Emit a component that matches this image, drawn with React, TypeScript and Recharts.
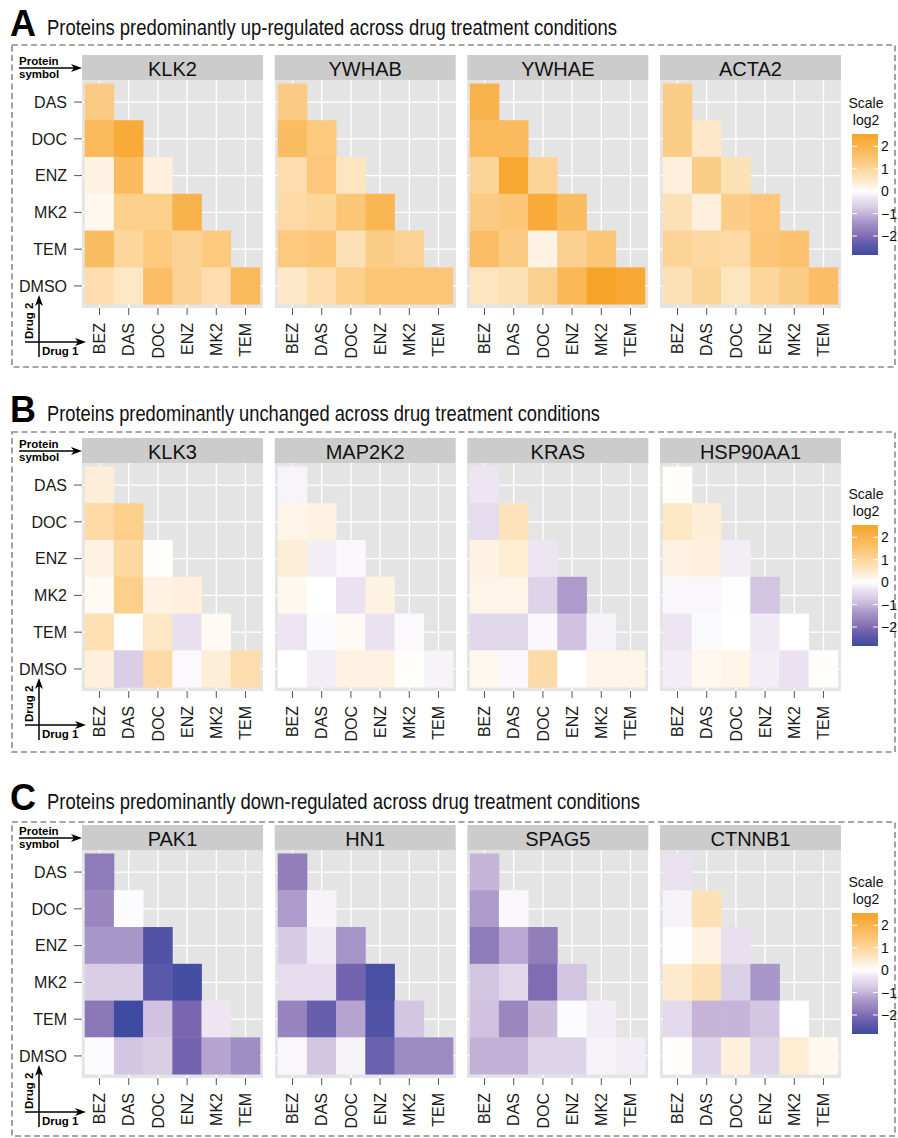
import React from "react";
import { ScatterChart, Scatter, XAxis, YAxis, CartesianGrid } from "recharts";

// Drug 1 along x, drug 2 down y (lower triangle of the combination grid)
const drug1Labels = ["BEZ", "DAS", "DOC", "ENZ", "MK2", "TEM"];
const drug2Labels = ["DAS", "DOC", "ENZ", "MK2", "TEM", "DMSO"];
const legendTicks = [2, 1, 0, -1, -2];

// log2 fold changes, one row per drug 2 (DAS..DMSO), columns from BEZ
const klk2 = [
  [1.3],
  [1.8, 2.3],
  [0.25, 1.75, 0.3],
  [0.15, 1.2, 1.2, 2.0],
  [1.7, 1.0, 1.35, 1.1, 1.35],
  [0.8, 0.55, 1.65, 1.1, 0.8, 1.8],
];
const ywhab = [
  [1.3],
  [1.7, 1.35],
  [0.8, 1.4, 0.6],
  [0.9, 1.0, 1.45, 1.9],
  [1.35, 1.45, 0.7, 1.25, 1.1],
  [0.5, 0.8, 1.2, 1.45, 1.45, 1.45],
];
const ywhae = [
  [2.0],
  [1.8, 1.75],
  [1.05, 2.4, 1.05],
  [1.3, 1.45, 2.3, 1.7],
  [1.65, 1.3, 0.25, 1.15, 1.45],
  [0.6, 0.7, 1.15, 1.85, 2.5, 2.35],
];
const acta2 = [
  [1.25],
  [1.25, 0.5],
  [0.3, 1.25, 0.7],
  [0.7, 0.3, 1.25, 1.4],
  [1.05, 0.95, 0.9, 1.45, 1.55],
  [0.7, 1.05, 0.6, 1.0, 1.25, 1.65],
];
const klk3 = [
  [0.35],
  [0.9, 1.2],
  [0.25, 0.95, 0.03],
  [0.1, 1.2, 0.25, 0.3],
  [0.75, 0.0, 0.55, -0.4, 0.1],
  [0.3, -0.7, 0.9, -0.07, 0.35, 0.8],
];
const map2k2 = [
  [-0.12],
  [0.2, 0.25],
  [0.35, -0.2, -0.08],
  [0.15, 0.0, -0.35, 0.25],
  [-0.3, -0.05, 0.1, -0.35, -0.07],
  [0.0, -0.2, 0.25, 0.25, 0.03, -0.15],
];
const kras = [
  [-0.3],
  [-0.45, 0.65],
  [0.25, 0.4, -0.3],
  [0.2, 0.2, -0.6, -1.3],
  [-0.55, -0.55, -0.1, -0.85, -0.15],
  [0.15, -0.08, 0.85, 0.0, 0.2, 0.2],
];
const hsp90aa1 = [
  [0.05],
  [0.55, 0.35],
  [0.25, 0.3, -0.2],
  [-0.1, -0.1, -0.03, -0.8],
  [-0.3, -0.06, 0.0, -0.25, 0.0],
  [-0.2, 0.15, 0.2, -0.2, -0.35, 0.03],
];
const pak1 = [
  [-1.8],
  [-1.6, -0.05],
  [-1.35, -1.35, -2.6],
  [-0.7, -0.7, -2.45, -2.75],
  [-1.85, -2.85, -0.85, -2.1, -0.3],
  [-0.05, -0.8, -0.7, -2.15, -1.2, -1.5],
];
const hn1 = [
  [-1.75],
  [-1.3, -0.15],
  [-0.75, -0.25, -1.4],
  [-0.45, -0.45, -2.15, -2.7],
  [-1.65, -2.3, -1.2, -2.6, -0.8],
  [-0.1, -0.8, -0.15, -2.25, -1.55, -1.55],
];
const spag5 = [
  [-1.0],
  [-1.3, -0.08],
  [-1.8, -1.15, -1.75],
  [-0.8, -0.55, -2.0, -0.8],
  [-0.85, -1.6, -0.9, -0.05, -0.2],
  [-1.05, -1.05, -0.6, -0.6, -0.15, -0.2],
];
const ctnnb1 = [
  [-0.35],
  [-0.15, 0.7],
  [-0.03, 0.25, -0.4],
  [0.45, 0.7, -0.65, -1.35],
  [-0.5, -1.0, -1.0, -0.8, 0.0],
  [0.02, -0.6, 0.3, -0.6, 0.4, 0.15],
];

const sectionLetters = ["A", "B", "C"];
const sectionTitles = [
  "Proteins predominantly up-regulated across drug treatment conditions",
  "Proteins predominantly unchanged across drug treatment conditions",
  "Proteins predominantly down-regulated across drug treatment conditions",
];
const sectionProteins = [
  ["KLK2", "YWHAB", "YWHAE", "ACTA2"],
  ["KLK3", "MAP2K2", "KRAS", "HSP90AA1"],
  ["PAK1", "HN1", "SPAG5", "CTNNB1"],
];
const sectionValues = [
  [klk2, ywhab, ywhae, acta2],
  [klk3, map2k2, kras, hsp90aa1],
  [pak1, hn1, spag5, ctnnb1],
];

// ---- layout ----
const FONT = "'Liberation Sans', Arial, Helvetica, sans-serif";
const PAGE_W = 898;
const PAGE_H = 1138;
const PANEL_W = 181;
const PANEL_H = 228;
const STRIP_H = 25;
const AXIS_H = 60;
const Y_AXIS_W = 82;
const PANEL_X0 = 82;
const PANEL_STEP = 192.67;
const DOMAIN: [number, number] = [0.4, 6.6];
const TICKS = [1, 2, 3, 4, 5, 6];

const layout = [
  { panelTop: 80, titleBase: 36, titleLen: 570, boxTop: 45, boxBottom: 367, legendShift: 0 },
  { panelTop: 463, titleBase: 422, titleLen: 553, boxTop: 432, boxBottom: 752, legendShift: 391 },
  { panelTop: 850, titleBase: 810, titleLen: 593, boxTop: 822, boxBottom: 1136, legendShift: 779 },
];

// ---- diverging colour scale: white at 0, orange up, purple to blue down ----
const BAR_MAX = 2.55;
const BAR_MIN = -2.85;
const upStops: [number, string][] = [
  [0, "#FFFFFF"],
  [0.3, "#FEF0DC"],
  [0.8, "#FDDDAD"],
  [1.3, "#FCCB83"],
  [1.8, "#FAB95A"],
  [2.5, "#F7A52A"],
  [2.85, "#F59E1E"],
];
const downStops: [number, string][] = [
  [0, "#FFFFFF"],
  [0.35, "#EAE2F0"],
  [0.7, "#D9CEE6"],
  [1.0, "#C6B5D9"],
  [1.35, "#A897C9"],
  [1.8, "#8E7BB9"],
  [2.1, "#7866B0"],
  [2.45, "#5A58A9"],
  [2.85, "#3E4BA0"],
];

function mixHex(a: string, b: string, t: number): string {
  const pa = parseInt(a.slice(1), 16);
  const pb = parseInt(b.slice(1), 16);
  const out = [16, 8, 0].map((sh) => {
    const ca = (pa >> sh) & 255;
    const cb = (pb >> sh) & 255;
    return Math.round(ca + (cb - ca) * t);
  });
  return "#" + out.map((c) => c.toString(16).padStart(2, "0")).join("");
}

function fillFor(v: number): string {
  const stops = v >= 0 ? upStops : downStops;
  const m = Math.abs(v);
  for (let i = 1; i < stops.length; i++) {
    if (m <= stops[i][0]) {
      const [m0, c0] = stops[i - 1];
      const [m1, c1] = stops[i];
      return mixHex(c0, c1, (m - m0) / (m1 - m0));
    }
  }
  return stops[stops.length - 1][1];
}

// ---- panels ----
function DrugTick(props: any) {
  const { x, y, payload } = props;
  return (
    <text
      x={x}
      y={y}
      transform={`rotate(-90 ${x} ${y})`}
      textAnchor="end"
      dy="0.36em"
      fontSize={16}
      fill="#1A1A1A"
      fontFamily={FONT}
    >
      {drug1Labels[payload.value - 1]}
    </text>
  );
}

const NoTick = () => <g />;

function Heatmap({ values, left, top, showY }: { values: number[][]; left: number; top: number; showY: boolean }) {
  const data = values.flatMap((row, r) => row.map((v, c) => ({ drug1: c + 1, drug2: r + 1, v })));
  const span = DOMAIN[1] - DOMAIN[0];
  const cellW = PANEL_W / span;
  const cellH = PANEL_H / span;
  const yW = showY ? Y_AXIS_W : 0;

  return (
    <div style={{ position: "absolute", left: left - yW, top }}>
      <ScatterChart width={yW + PANEL_W} height={PANEL_H + AXIS_H} margin={{ top: 0, right: 0, bottom: 0, left: 0 }}>
        <CartesianGrid
          fill="#E4E4E4"
          fillOpacity={1}
          stroke="#FFFFFF"
          strokeWidth={1.3}
          horizontalValues={TICKS}
          verticalValues={TICKS}
        />
        <XAxis
          type="number"
          dataKey="drug1"
          domain={DOMAIN}
          ticks={TICKS}
          interval={0}
          height={AXIS_H}
          axisLine={false}
          tickSize={7}
          tickMargin={8}
          tickLine={{ stroke: "#555555" }}
          tick={<DrugTick />}
        />
        <YAxis
          type="number"
          dataKey="drug2"
          domain={DOMAIN}
          reversed
          ticks={TICKS}
          interval={0}
          width={yW}
          axisLine={false}
          tickSize={8}
          tickMargin={7}
          tickLine={showY ? { stroke: "#555555" } : false}
          tick={showY ? { fontSize: 16, fill: "#1A1A1A", fontFamily: FONT } : NoTick}
          tickFormatter={(v: number) => drug2Labels[v - 1]}
        />
        <Scatter
          data={data}
          isAnimationActive={false}
          shape={(p: any) => (
            <rect
              x={p.cx - cellW / 2 - 0.2}
              y={p.cy - cellH / 2 - 0.2}
              width={cellW + 0.4}
              height={cellH + 0.4}
              fill={fillFor(p.payload.v)}
            />
          )}
        />
      </ScatterChart>
    </div>
  );
}

// ---- titles, strips, frames, annotations and colour bar ----
function SectionFrame({ index }: { index: number }) {
  const s = layout[index];
  const off = s.panelTop - layout[0].panelTop;
  const stripTop = s.panelTop - STRIP_H;
  const barTop = 134 + s.legendShift;
  const barH = 121;
  const barX = 852;
  const barW = 26;
  const valueToY = (v: number) => barTop + ((BAR_MAX - v) / (BAR_MAX - BAR_MIN)) * barH;

  return (
    <g>
      <rect
        x={12}
        y={s.boxTop}
        width={883}
        height={s.boxBottom - s.boxTop}
        fill="none"
        stroke="#8A8A8A"
        strokeWidth={1.6}
        strokeDasharray="6 3.5"
      />
      <text x={10} y={s.titleBase} fontSize={36} fontWeight="bold" fill="#000">
        {sectionLetters[index]}
      </text>
      <text x={47} y={s.titleBase - 1} fontSize={21.5} fill="#111" textLength={s.titleLen} lengthAdjust="spacingAndGlyphs">
        {sectionTitles[index]}
      </text>

      {sectionProteins[index].map((name, i) => {
        const x = PANEL_X0 + i * PANEL_STEP;
        return (
          <g key={name}>
            <rect x={x} y={stripTop} width={PANEL_W} height={STRIP_H} fill="#CCCCCC" />
            <text x={x + PANEL_W / 2} y={stripTop + 21} fontSize={20} textAnchor="middle" fill="#111">
              {name}
            </text>
          </g>
        );
      })}

      {/* protein symbol pointer */}
      <text x={19} y={65 + off} fontSize={11.5} fontWeight="bold" fill="#000">Protein</text>
      <text x={19} y={78 + off} fontSize={11.5} fontWeight="bold" fill="#000">symbol</text>
      <line x1={19} y1={68 + off} x2={76} y2={68 + off} stroke="#000" strokeWidth={1.3} />
      <polygon points={`82,${68 + off} 71,${64 + off} 74,${68 + off} 71,${72 + off}`} fill="#000" />

      {/* drug axes key */}
      <line x1={39} y1={357 + off} x2={39} y2={301 + off} stroke="#000" strokeWidth={1.5} />
      <polygon points={`39,${295 + off} 35,${306 + off} 39,${303 + off} 43,${306 + off}`} fill="#000" />
      <line x1={25} y1={342 + off} x2={80} y2={342 + off} stroke="#000" strokeWidth={1.5} />
      <polygon points={`86,${342 + off} 75,${338 + off} 78,${342 + off} 75,${346 + off}`} fill="#000" />
      <text
        x={33}
        y={339 + off}
        transform={`rotate(-90 33 ${339 + off})`}
        fontSize={11.5}
        fontWeight="bold"
        fill="#000"
      >
        Drug 2
      </text>
      <text x={42} y={355 + off} fontSize={11.5} fontWeight="bold" fill="#000">Drug 1</text>

      {/* colour bar */}
      <text x={866} y={108 + s.legendShift} fontSize={14} textAnchor="middle" fill="#111">Scale</text>
      <text x={866} y={125 + s.legendShift} fontSize={14} textAnchor="middle" fill="#111">log2</text>
      <rect x={barX} y={barTop} width={barW} height={barH} fill="url(#scaleGrad)" />
      {legendTicks.map((t) => (
        <g key={t}>
          <line x1={barX} x2={barX + 5} y1={valueToY(t)} y2={valueToY(t)} stroke="#FFFFFF" strokeWidth={1} />
          <line x1={barX + barW - 5} x2={barX + barW} y1={valueToY(t)} y2={valueToY(t)} stroke="#FFFFFF" strokeWidth={1} />
          <text x={881} y={valueToY(t) + 5} fontSize={14} fill="#111">
            {t < 0 ? `\u2212${-t}` : t}
          </text>
        </g>
      ))}
    </g>
  );
}

function Frame() {
  const steps = 54;
  const stops = Array.from({ length: steps + 1 }, (_, i) => {
    const v = BAR_MAX - ((BAR_MAX - BAR_MIN) * i) / steps;
    return <stop key={i} offset={i / steps} stopColor={fillFor(v)} />;
  });
  return (
    <svg width={PAGE_W} height={PAGE_H} style={{ position: "absolute", left: 0, top: 0 }} fontFamily={FONT}>
      <defs>
        <linearGradient id="scaleGrad" x1="0" y1="0" x2="0" y2="1">
          {stops}
        </linearGradient>
      </defs>
      {layout.map((_, i) => (
        <SectionFrame key={i} index={i} />
      ))}
    </svg>
  );
}

export default function App() {
  return (
    <div
      style={{
        position: "absolute",
        left: 0,
        top: 0,
        width: PAGE_W,
        height: PAGE_H,
        background: "#FFFFFF",
        fontFamily: FONT,
        overflow: "hidden",
      }}
    >
      <Frame />
      {layout.map((s, si) =>
        sectionValues[si].map((values, pi) => (
          <Heatmap
            key={`${si}-${pi}`}
            values={values}
            left={PANEL_X0 + pi * PANEL_STEP}
            top={s.panelTop}
            showY={pi === 0}
          />
        ))
      )}
    </div>
  );
}
